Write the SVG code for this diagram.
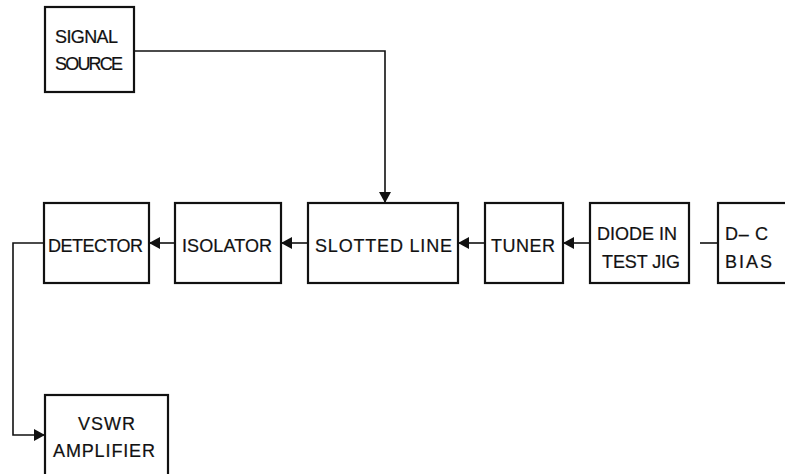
<svg xmlns="http://www.w3.org/2000/svg" width="785" height="474" viewBox="0 0 785 474">
<style>
.box{fill:#fff;stroke:#111;stroke-width:2.2}
.lbl{font-family:"Liberation Sans",Arial,sans-serif;font-size:18px;fill:#111;stroke:#111;stroke-width:0.2}
.wire{fill:none;stroke:#111;stroke-width:1.6}
</style>
<defs>
<marker id="ah" viewBox="0 0 11 12" refX="11" refY="6" markerWidth="11" markerHeight="12" markerUnits="userSpaceOnUse" orient="auto">
<path d="M0,0 L11,6 L0,12 Z" fill="#111"/>
</marker>
</defs>
<rect width="785" height="474" fill="#fff"/>
<g id="connectors">
<path class="wire" d="M134,51 H385 V203" marker-end="url(#ah)"/>
<path class="wire" d="M175,243 H149" marker-end="url(#ah)"/>
<path class="wire" d="M308,243 H281" marker-end="url(#ah)"/>
<path class="wire" d="M485,243 H458" marker-end="url(#ah)"/>
<path class="wire" d="M590,243 H563" marker-end="url(#ah)"/>
<path class="wire" d="M718,243 H700"/>
<path class="wire" d="M44,243 H13 V435 H45" marker-end="url(#ah)"/>
</g>
<g id="signal-source">
<rect class="box" x="45" y="7" width="89" height="85"/>
<text class="lbl" x="55" y="43" textLength="63">SIGNAL</text>
<text class="lbl" x="55" y="70" textLength="68">SOURCE</text>
</g>
<g id="detector">
<rect class="box" x="44" y="203" width="105" height="80"/>
<text class="lbl" x="48" y="252" textLength="95">DETECTOR</text>
</g>
<g id="isolator">
<rect class="box" x="175" y="203" width="106" height="80"/>
<text class="lbl" x="182" y="252" textLength="90">ISOLATOR</text>
</g>
<g id="slotted-line">
<rect class="box" x="308" y="203" width="150" height="80"/>
<text class="lbl" x="315" y="252" textLength="137">SLOTTED LINE</text>
</g>
<g id="tuner">
<rect class="box" x="485" y="203" width="78" height="80"/>
<text class="lbl" x="491" y="252" textLength="64">TUNER</text>
</g>
<g id="diode">
<rect class="box" x="590" y="203" width="99" height="80"/>
<text class="lbl" x="597" y="240" textLength="80">DIODE IN</text>
<text class="lbl" x="602" y="268" textLength="78">TEST JIG</text>
</g>
<g id="dc-bias">
<rect class="box" x="718" y="203" width="80" height="80"/>
<text class="lbl" x="725" y="240" textLength="43">D– C</text>
<text class="lbl" x="725" y="268" textLength="47">BIAS</text>
</g>
<g id="vswr-amplifier">
<rect class="box" x="45" y="395" width="123" height="85"/>
<text class="lbl" x="78" y="430" textLength="57">VSWR</text>
<text class="lbl" x="53" y="457" textLength="102">AMPLIFIER</text>
</g>
</svg>
